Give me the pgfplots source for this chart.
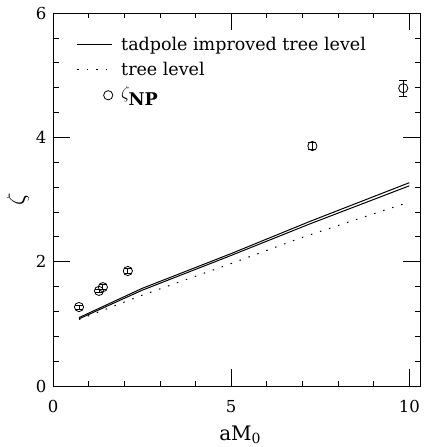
\documentclass[border=0pt]{standalone}
\usepackage{fontspec}
\setmainfont{DejaVu Serif}
\usepackage{pgfplots}
\pgfplotsset{compat=1.18}
\begin{document}
\begin{tikzpicture}
\begin{axis}[
  name=ax,
  width=367bp, height=373bp, scale only axis,
  xmin=0, xmax=10.3, ymin=0, ymax=6,
  xtick={0,5,10}, ytick={0,2,4,6},
  minor x tick num=4, minor y tick num=4,
  tick align=inside,
  major tick length=17bp, minor tick length=5.5bp,
  every tick/.style={black, line width=0.7bp},
  axis line style={line width=0.8bp},
  /pgf/number format/assume math mode=true,
  tick label style={font=\fontsize{16.5bp}{20bp}\selectfont},
  xticklabel style={yshift=-11bp},
  yticklabel style={xshift=-3bp},
  xlabel={aM\textsubscript{0}}, ylabel={$\zeta$},
  label style={font=\fontsize{20bp}{24bp}\selectfont},
  ylabel style={font=\fontsize{25bp}{30bp}\selectfont},
  xlabel style={at={([yshift=-49bp]axis description cs:0.51,0)}, anchor=center},
  ylabel style={at={([xshift=-35bp]axis description cs:0,0.5)}, anchor=center},
  legend style={draw=none, fill=none, at={(axis cs:0.66,5.65)}, anchor=north west,
    font=\fontsize{17.5bp}{21bp}\selectfont, row sep=6bp, inner sep=0pt,
    nodes={inner sep=2bp},
    /tikz/every odd column/.style={column sep=6bp}},
  legend cell align=left,
  legend image code/.code={\draw[#1] (0bp,0bp) -- (35bp,0bp);},
]
% tadpole improved tree level (two nearly coincident curves)
\addplot[black, line width=1bp] coordinates {
  (0.73,1.10) (2.5,1.57) (5,2.13) (7.22,2.65) (10,3.27)
};
\addlegendentry{tadpole improved tree level}
\addplot[black, line width=1bp, forget plot] coordinates {
  (0.73,1.08) (2.5,1.54) (5,2.10) (7.22,2.61) (10,3.22)
};
% tree level
\addplot[black, line width=1bp, dash pattern=on 1.5bp off 8bp] coordinates {
  (0.73,1.07) (2.5,1.46) (5,1.97) (6.94,2.38) (10,2.96)
};
\addlegendentry{tree level}
% zeta_NP
\addplot[black, only marks, mark=o, mark size=4.6bp, line width=0.8bp,
  error bars/.cd, y dir=both, y explicit,
  error mark options={rotate=90, mark size=4bp, line width=0.8bp},
  error bar style={line width=0.8bp},
  /pgfplots/legend image code/.code={\path[draw=none] (0bp,0bp) -- (35bp,0bp);
    \draw[black, line width=0.8bp] (31bp,-2bp) circle[radius=4.6bp];}]
  coordinates {
  (0.73,1.27) +- (0,0.03)
  (1.29,1.53) +- (0,0.03)
  (1.40,1.59) +- (0,0.04)
  (2.10,1.85) +- (0,0.04)
  (7.28,3.86) +- (0,0.06)
  (9.83,4.79) +- (0,0.13)
};
\addlegendentry{$\zeta_{\textbf{NP}}$}
\end{axis}
\pgfresetboundingbox
\path[use as bounding box] ([shift={(-53bp,-61bp)}]ax.south west) rectangle ([shift={(7bp,13bp)}]ax.north east);
\end{tikzpicture}
\end{document}
